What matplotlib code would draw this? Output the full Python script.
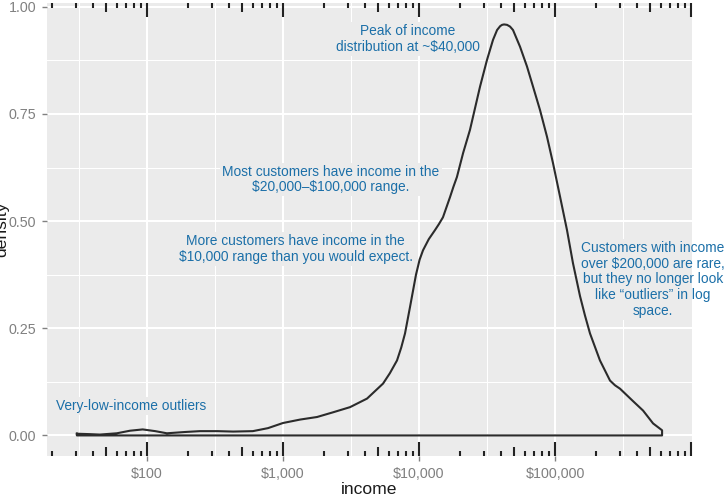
import numpy as np
import matplotlib
matplotlib.use("Agg")
import matplotlib.pyplot as plt
from matplotlib.ticker import FixedLocator, NullFormatter
import matplotlib.transforms as mtransforms

# ---- data (income in $, estimated density of log10(income)) ----
income = [30.5, 38, 45, 60, 75, 93, 115, 140, 190, 245, 330, 430, 600, 775,
          1000, 1335, 1780, 2335, 3110, 4150, 5440, 6100, 6890, 7400, 7890, 8590,
          9500, 10100, 10700, 11800, 13100, 14000, 15000, 16900, 17900, 19000,
          21100, 23700, 28100, 31600, 35000, 37500, 39500, 40800, 42200, 44400,
          46700, 49100, 55300, 62200, 68900, 77600, 87300, 96700, 108900, 122500,
          135500, 152700, 166000, 180800, 214000, 253700, 276000, 300600, 374600,
          444000, 526000, 612600]
density = [0.004, 0.003, 0.002, 0.005, 0.011, 0.014, 0.010, 0.005, 0.008, 0.010,
           0.010, 0.009, 0.010, 0.017, 0.029, 0.037, 0.043, 0.054, 0.066, 0.086,
           0.121, 0.145, 0.175, 0.205, 0.238, 0.300, 0.375, 0.410, 0.432, 0.458,
           0.479, 0.493, 0.509, 0.556, 0.580, 0.603, 0.659, 0.713, 0.814, 0.876,
           0.923, 0.946, 0.955, 0.958, 0.959, 0.958, 0.954, 0.946, 0.907, 0.861,
           0.814, 0.759, 0.697, 0.635, 0.557, 0.479, 0.402, 0.325, 0.280, 0.238,
           0.175, 0.128, 0.117, 0.109, 0.080, 0.058, 0.028, 0.012]

x_breaks = [100, 1000, 10000, 100000]
x_labels = ["$100", "$1,000", "$10,000", "$100,000"]
y_breaks = [0.0, 0.25, 0.5, 0.75, 1.0]
y_labels = ["0.00", "0.25", "0.50", "0.75", "1.00"]

annotations = [
    ("Peak of income\ndistribution at ~$40,000", 8300, 0.925),
    ("Most customers have income in the\n$20,000\u2013$100,000 range.", 2255, 0.597),
    ("More customers have income in the\n$10,000 range than you would expect.", 1236, 0.435),
    ("Customers with income\nover $200,000 are rare,\nbut they no longer look\nlike \u201coutliers\u201d in log\nspace.", 525000, 0.364),
    ("Very-low-income outliers", 77, 0.068),
]

# ---- figure ----
W, H = 724, 496
fig = plt.figure(figsize=(W / 100, H / 100), dpi=100)
fig.patch.set_facecolor("white")
plt.rcParams['font.family'] = ['Liberation Sans', 'DejaVu Sans']

left, right, top, bottom = 47, 691.5, 3, 456
ax = fig.add_axes([left / W, (H - bottom) / H, (right - left) / W, (bottom - top) / H])
ax.set_facecolor("#EBEBEB")
for s in ax.spines.values():
    s.set_visible(False)

ax.set_xscale("log")
ax.set_xlim(10 ** 1.2647, 10 ** 6.0035)
ax.set_ylim(-0.048, 1.009)

ax.set_xticks(x_breaks)
ax.set_xticklabels(x_labels)
ax.xaxis.set_minor_locator(FixedLocator([10 ** (e + 0.5) for e in range(1, 6)]))
ax.xaxis.set_minor_formatter(NullFormatter())
ax.set_yticks(y_breaks)
ax.set_yticklabels(y_labels)
ax.yaxis.set_minor_locator(FixedLocator([0.125, 0.375, 0.625, 0.875]))

ax.grid(True, which="major", color="white", linewidth=1.5)
ax.grid(True, which="minor", color="white", linewidth=0.75)
ax.set_axisbelow(True)
ax.tick_params(which="minor", length=0)
ax.tick_params(which="major", length=3.8, width=1.0, color="#808080",
               labelcolor="#808080", labelsize=10.3, pad=3.8)

# ---- density outline (closed like geom_density) ----
xs = list(income) + [income[-1], income[0], income[0]]
ys = list(density) + [0.0, 0.0, density[0]]
ax.plot(xs, ys, color="#2b2b2b", linewidth=1.5, solid_joinstyle="round", zorder=3)

# ---- log ticks on top and bottom ----
trans = mtransforms.blended_transform_factory(ax.transData, ax.transAxes)
ph = bottom - top
lens = {"short": 5.5 / ph, "mid": 9.5 / ph, "long": 14.0 / ph}
xmin, xmax = ax.get_xlim()
for e in range(0, 7):
    for k in range(1, 10):
        v = k * 10 ** e
        if v < xmin or v > xmax * 1.0001:
            continue
        kind = "long" if k == 1 else ("mid" if k == 5 else "short")
        L = lens[kind]
        ax.plot([v, v], [0, L], transform=trans, color="#222222", linewidth=1.5,
                solid_capstyle="butt", zorder=4, clip_on=False)
        ax.plot([v, v], [1 - L, 1], transform=trans, color="#222222", linewidth=1.5,
                solid_capstyle="butt", zorder=4, clip_on=False)

# ---- annotations ----
blue = "#1b6fa8"
for txt, xv, yv in annotations:
    # background patch (clipped to panel) hiding the grid lines
    ax.text(xv, yv, txt, ha="center", va="center", fontsize=9.9, color=(0, 0, 0, 0),
            linespacing=1.15, clip_on=True, zorder=2.5, parse_math=False,
            bbox=dict(boxstyle="square,pad=0.15", facecolor="#EBEBEB", edgecolor="none"))
    ax.text(xv, yv, txt, ha="center", va="center", fontsize=9.9, color=blue,
            linespacing=1.15, clip_on=False, zorder=5, parse_math=False)

# ---- axis titles ----
fig.text((left + right) / 2 / W, (H - 494) / H, "income", ha="center", va="baseline",
         fontsize=12.6, color="#1a1a1a")
fig.text(9.5 / W, 1 - ((top + bottom) / 2) / H, "density", ha="right", va="center",
         rotation=90, fontsize=12.6, color="#1a1a1a")

fig.savefig("out.png", dpi=100, facecolor="white")
